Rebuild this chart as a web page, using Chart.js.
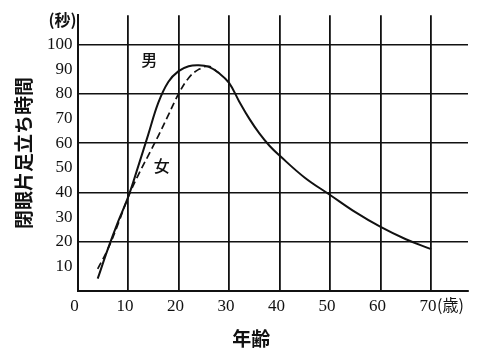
<!DOCTYPE html>
<html lang="ja">
<head>
<meta charset="UTF-8">
<title>閉眼片足立ち時間</title>
<script src="https://cdn.jsdelivr.net/npm/chart.js@4/dist/chart.umd.min.js"></script>
<style>
    body { margin: 0; background: #fff; }
</style>
</head>
<body>
<canvas id="chart" width="493" height="355"></canvas>
<script>
// 年齢 (歳) と閉眼片足立ち時間 (秒)
const maleAges   = [4, 6, 8, 10, 12, 14, 16, 18, 20, 22, 24, 26, 28, 30, 32, 34, 36, 38, 40, 45, 50, 55, 60, 65, 70];
const maleTimes  = [5, 17, 28, 38, 50.5, 63.5, 76.5, 85, 89.3, 91.3, 91.7, 91, 88.5, 84.5, 77, 70, 64, 59, 55, 46, 39, 32, 26, 21, 17];
const femaleAges  = [4, 6, 8, 10, 12, 14, 16, 18, 20, 22, 24, 26, 28];
const femaleTimes = [9, 17, 27, 38, 47, 55, 63, 71.5, 80, 86.5, 90, 91.2, 88.5];

const seriesNames = ['男', '女'];
const yTitle = '閉眼片足立ち時間';
const xTitle = '年齢';
const yUnit = '(秒)';
const xUnit = '(歳)';

const ink = '#111';

function points(xs, ys) {
    return xs.map((x, i) => ({ x: x, y: ys[i] }));
}

// 図中の文字 (単位, 系列名, 横軸名)
const labelsPlugin = {
    id: 'labels',
    afterDraw(chart) {
        const ctx = chart.ctx;
        const xs = chart.scales.x, ys = chart.scales.y;
        const area = chart.chartArea;
        ctx.save();
        ctx.fillStyle = ink;
        ctx.textBaseline = 'middle';

        ctx.textAlign = 'center';
        ctx.font = '500 16px "Noto Sans CJK JP"';
        ctx.fillText(seriesNames[0], xs.getPixelForValue(14.2), ys.getPixelForValue(93.7));
        ctx.fillText(seriesNames[1], xs.getPixelForValue(16.7), ys.getPixelForValue(50.8));

        ctx.font = 'bold 16px "Noto Sans CJK JP"';
        ctx.fillText(yUnit, area.left - 15, ys.getPixelForValue(110));

        ctx.textAlign = 'left';
        ctx.font = '16px "Noto Sans CJK JP"';
        ctx.fillText(xUnit, xs.getPixelForValue(70) + 6, area.bottom + 14);

        ctx.textAlign = 'center';
        ctx.font = 'bold 19px "Noto Sans CJK JP"';
        ctx.fillText(xTitle, xs.getPixelForValue(34.4), chart.height - 16);
        ctx.restore();
    }
};

new Chart(document.getElementById('chart'), {
    type: 'line',
    data: {
        datasets: [{
            label: seriesNames[0],
            data: points(maleAges, maleTimes),
            borderColor: ink,
            borderWidth: 2,
            pointRadius: 0,
            tension: 0.4
        }, {
            label: seriesNames[1],
            data: points(femaleAges, femaleTimes),
            borderColor: ink,
            borderWidth: 1.7,
            borderDash: [7, 4],
            pointRadius: 0,
            tension: 0.4
        }]
    },
    options: {
        responsive: false,
        animation: false,
        layout: { padding: { top: 9, right: 25, left: 0, bottom: 0 } },
        plugins: {
            legend: { display: false },
            tooltip: { enabled: false }
        },
        scales: {
            x: {
                type: 'linear',
                min: 0,
                max: 77.3,
                afterFit(scale) { scale.height = 64; },
                border: { color: ink, width: 2 },
                grid: { color: ink, lineWidth: 1.8, drawTicks: false },
                ticks: {
                    stepSize: 10,
                    includeBounds: false,
                    padding: 5,
                    labelOffset: -3,
                    color: ink,
                    font: { family: '"Liberation Serif"', size: 17 },
                    callback: v => v
                }
            },
            y: {
                min: 0,
                max: 112,
                afterFit(scale) { scale.width = 77.5; },
                border: { color: ink, width: 2 },
                grid: {
                    drawTicks: false,
                    lineWidth: 1.6,
                    color: c => (c.tick && c.tick.value > 0 && c.tick.value % 20 === 0) ? ink : 'rgba(0,0,0,0)'
                },
                ticks: {
                    stepSize: 10,
                    includeBounds: false,
                    padding: 5,
                    color: ink,
                    font: { family: '"Liberation Serif"', size: 17 },
                    callback: v => (v === 0 || v > 100 ? '' : v)
                },
                title: {
                    display: true,
                    text: yTitle,
                    color: ink,
                    font: { family: '"Noto Sans CJK JP"', size: 19, weight: 'bold' },
                    padding: { top: 12.6, bottom: 0 }
                }
            }
        }
    },
    plugins: [labelsPlugin]
});
</script>
</body>
</html>
